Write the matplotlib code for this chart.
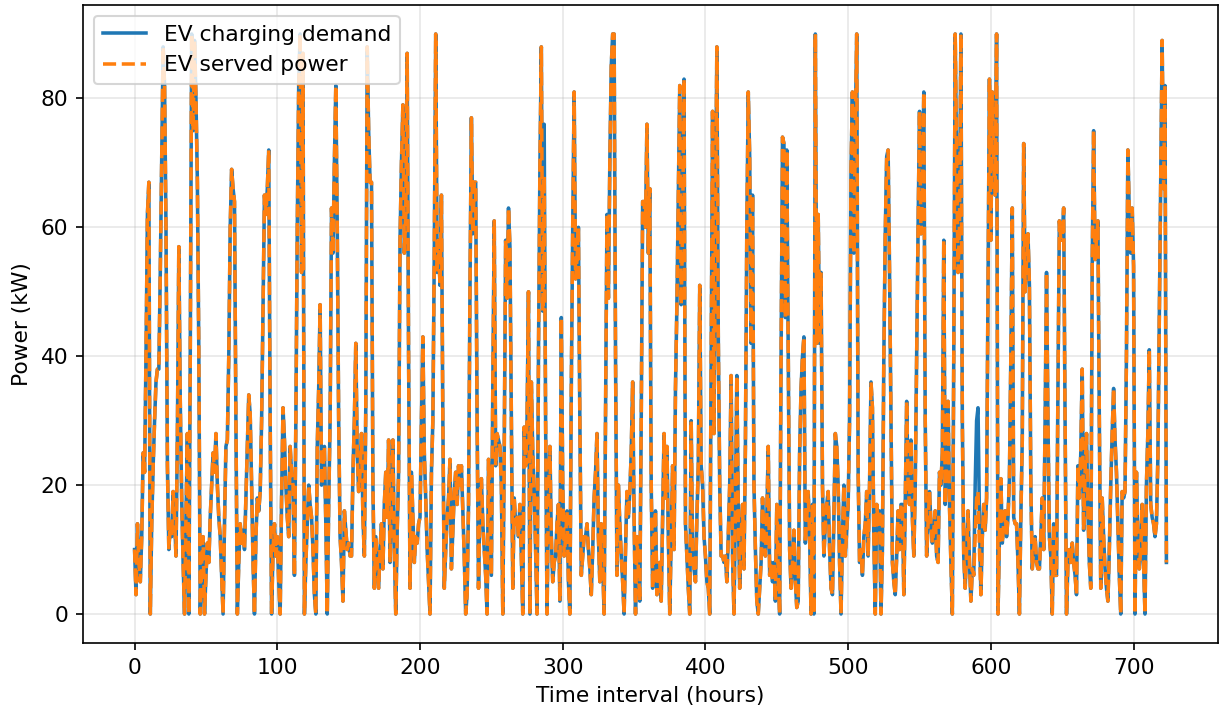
import matplotlib
matplotlib.use("Agg")
import matplotlib.pyplot as plt
import numpy as np

# EV charging demand (kW), hourly
demand = [
    10, 3, 14, 8, 5, 12, 25, 22, 40, 62, 67, 0, 14, 23, 30, 36, 38, 38, 53, 70, 88, 82, 60, 23,
    10, 14, 12, 19, 15, 9, 28, 57, 33, 18, 8, 0, 15, 28, 0, 40, 90, 75, 89, 80, 67, 41, 0, 8,
    12, 0, 6, 11, 8, 15, 20, 25, 22, 28, 20, 15, 12, 6, 0, 14, 26, 27, 40, 60, 69, 66, 64, 30,
    0, 8, 14, 11, 13, 10, 18, 26, 34, 31, 20, 8, 0, 12, 18, 16, 19, 30, 48, 65, 62, 66, 72, 30,
    0, 10, 14, 9, 12, 5, 0, 18, 32, 27, 20, 15, 12, 26, 22, 20, 6, 30, 60, 82, 90, 53, 87, 0,
    8, 14, 20, 17, 15, 10, 3, 0, 26, 35, 48, 20, 22, 26, 14, 0, 17, 30, 63, 56, 70, 82, 60, 30,
    12, 8, 2, 16, 13, 10, 11, 9, 9, 22, 30, 42, 25, 19, 22, 28, 15, 9, 32, 88, 75, 67, 67, 20,
    4, 12, 8, 4, 10, 14, 7, 17, 22, 15, 27, 8, 18, 27, 10, 0, 13, 22, 58, 70, 79, 56, 62, 87,
    40, 4, 22, 15, 8, 12, 11, 14, 15, 30, 43, 25, 18, 10, 5, 0, 22, 30, 56, 90, 53, 58, 51, 65,
    30, 4, 10, 15, 18, 24, 7, 13, 19, 22, 17, 23, 20, 23, 16, 9, 0, 3, 17, 50, 77, 59, 67, 67,
    30, 4, 18, 21, 14, 10, 6, 0, 24, 15, 6, 35, 61, 23, 28, 27, 26, 20, 0, 25, 58, 49, 63, 57,
    30, 4, 18, 14, 15, 12, 17, 9, 0, 29, 23, 30, 50, 0, 36, 25, 19, 10, 0, 40, 69, 88, 47, 76,
    30, 0, 18, 26, 12, 5, 8, 9, 14, 17, 2, 46, 20, 9, 12, 16, 5, 0, 35, 60, 81, 52, 55, 60,
    30, 6, 9, 12, 12, 14, 10, 7, 3, 10, 18, 22, 28, 12, 5, 14, 8, 0, 30, 62, 49, 70, 85, 90,
    90, 40, 6, 20, 14, 9, 5, 0, 10, 19, 15, 19, 25, 36, 15, 0, 12, 7, 2, 30, 64, 64, 60, 76,
    56, 66, 20, 4, 12, 16, 3, 6, 8, 2, 15, 28, 18, 26, 12, 0, 12, 23, 10, 35, 48, 65, 82, 48,
    60, 83, 14, 9, 4, 0, 30, 9, 7, 5, 15, 23, 51, 23, 20, 12, 9, 5, 4, 0, 40, 78, 28, 60,
    88, 43, 20, 9, 9, 8, 9, 5, 12, 20, 37, 9, 0, 17, 37, 16, 4, 12, 17, 7, 26, 60, 81, 71,
    42, 65, 20, 10, 2, 0, 4, 8, 18, 12, 9, 15, 26, 6, 8, 5, 8, 2, 17, 6, 0, 40, 74, 73,
    46, 72, 40, 10, 4, 8, 13, 5, 1, 2, 25, 35, 40, 43, 11, 15, 19, 12, 0, 17, 0, 90, 42, 62,
    42, 53, 20, 9, 14, 17, 19, 10, 4, 3, 15, 28, 26, 20, 8, 0, 12, 20, 9, 13, 17, 30, 69, 81,
    56, 75, 90, 22, 8, 10, 6, 12, 14, 19, 9, 20, 36, 32, 12, 0, 17, 14, 16, 0, 10, 40, 59, 71,
    72, 53, 30, 8, 5, 3, 9, 16, 10, 17, 17, 3, 17, 33, 20, 17, 27, 15, 9, 20, 40, 60, 78, 59,
    65, 81, 30, 9, 14, 19, 14, 11, 13, 16, 9, 8, 22, 20, 25, 58, 17, 25, 33, 17, 8, 0, 40, 90,
    70, 53, 60, 90, 30, 9, 4, 10, 16, 8, 2, 7, 6, 20, 30, 32, 15, 3, 12, 17, 13, 18, 50, 83,
    58, 81, 70, 65, 90, 0, 12, 21, 11, 14, 16, 12, 15, 21, 40, 63, 15, 14, 14, 8, 0, 15, 27, 73,
    50, 55, 59, 51, 20, 7, 10, 12, 8, 7, 7, 12, 18, 10, 30, 53, 30, 12, 9, 0, 14, 6, 6, 35,
    61, 58, 58, 63, 30, 0, 8, 10, 8, 11, 8, 6, 3, 23, 18, 25, 38, 13, 22, 28, 16, 8, 4, 54,
    75, 55, 58, 61, 30, 4, 18, 12, 7, 4, 2, 10, 20, 28, 35, 27, 22, 14, 6, 0, 19, 18, 19, 40,
    72, 62, 56, 63, 54, 0, 22, 12, 7, 10, 17, 8, 0, 20, 28, 41, 17, 15, 14, 12, 14, 24, 45, 67,
    89, 66, 82, 8,
]

# Hours where the served power falls short of the demand
served_shortfall_hours = [287, 589, 590, 591, 592]
served_shortfall_values = [68, 12, 18, 19, 10]

hours = np.arange(len(demand))
served = list(demand)
for h, v in zip(served_shortfall_hours, served_shortfall_values):
    served[h] = v

plt.rcParams["font.size"] = 10.45

fig = plt.figure(figsize=(1219 / 150, 715 / 150), dpi=150)
ax = fig.add_axes([83 / 1219, 1 - 643 / 715, (1218 - 83) / 1219, (643 - 5) / 715])

ax.plot(hours, demand, color="#1f77b4", linewidth=1.7, label="EV charging demand")
ax.plot(hours, served, color="#ff7f0e", linewidth=1.7, linestyle="--", label="EV served power")

ax.set_xlabel("Time interval (hours)")
ax.set_ylabel("Power (kW)")
ax.grid(True, alpha=0.3)
ax.legend(loc="upper left")

fig.savefig("out.png", dpi=150)
